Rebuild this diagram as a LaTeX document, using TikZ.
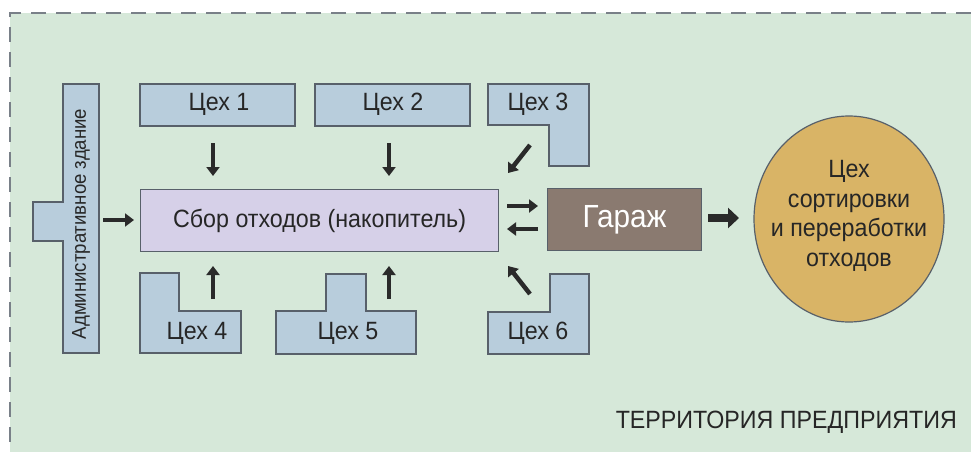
\documentclass[tikz,border=0pt]{standalone}
\usepackage{fontspec}
\setmainfont{Liberation Sans}[FakeStretch=0.93]
\usetikzlibrary{arrows.meta,shapes.geometric}
\definecolor{bggreen}{HTML}{D6E8D9}
\definecolor{shopblue}{HTML}{B8CDDC}
\definecolor{edgegray}{HTML}{58606A}
\definecolor{lav}{HTML}{D6D0E8}
\definecolor{garbrown}{HTML}{8A7A70}
\definecolor{circgold}{HTML}{D9B466}
\definecolor{arrdark}{HTML}{2A2A2A}
\definecolor{txt}{HTML}{262626}
\tikzset{
  shop/.style={fill=shopblue,draw=edgegray,line width=1.2pt},
  lbl/.style={inner sep=0pt,text=txt,font=\fontsize{25}{28}\selectfont},
  fat/.style={draw=arrdark,line width=4.5pt,-{Triangle[length=9pt,width=13pt]}},
  fatter/.style={draw=arrdark,line width=8pt,-{Triangle[length=11pt,width=20pt]}}
}
\begin{document}
\begin{tikzpicture}[x=1pt,y=-1pt]
\useasboundingbox (0,0) rectangle (971,452);
\fill[white] (0,0) rectangle (971,452);
\fill[bggreen] (10,13) rectangle (971,452);
\draw[edgegray!80,line width=1.6pt,dash pattern=on 15pt off 10pt] (971,13) -- (10,13) -- (10,452);

% admin building
\draw[shop] (63,84) -- (99,84) -- (99,353) -- (63,353) -- (63,241) -- (33,241) -- (33,202) -- (63,202) -- cycle;
\node[lbl,rotate=90,font=\fontsize{20}{22}\selectfont] (adm) at (81,224) {Административное здание};

% shops
\draw[shop] (140,84) rectangle (295,126);
\node[lbl] (c1) at (219,104) {Цех 1};
\draw[shop] (315,84) rectangle (470,126);
\node[lbl] (c2) at (393,104) {Цех 2};
\draw[shop] (488,84) -- (589,84) -- (589,166) -- (549,166) -- (549,125) -- (488,125) -- cycle;
\node[lbl] (c3) at (538,104) {Цех 3};
\draw[shop] (140,273) -- (179,273) -- (179,311) -- (241,311) -- (241,353) -- (140,353) -- cycle;
\node[lbl] (c4) at (197,333) {Цех 4};
\draw[shop] (276,311) -- (326,311) -- (326,274) -- (366,274) -- (366,311) -- (416,311) -- (416,354) -- (276,354) -- cycle;
\node[lbl] (c5) at (348,333) {Цех 5};
\draw[shop] (488,312) -- (550,312) -- (550,274) -- (589,274) -- (589,354) -- (488,354) -- cycle;
\node[lbl] (c6) at (538,333) {Цех 6};

% collector
\node[draw=edgegray,line width=1.2pt,fill=lav,minimum width=358pt,minimum height=62pt,inner sep=0pt,anchor=north west,
  font=\fontsize{25}{28}\selectfont,text=txt] (sbor) at (140,189) {Сбор отходов (накопитель)};
% garage
\node[draw=edgegray,line width=1.2pt,fill=garbrown,minimum width=154pt,minimum height=62pt,inner sep=0pt,anchor=north west,
  font=\fontsize{32}{34}\selectfont,text=white] (gar) at (547,188) {Гараж};
% sorting shop
\node[ellipse,draw=edgegray,line width=1.2pt,fill=circgold,minimum width=190pt,minimum height=206pt,inner sep=0pt] (sort) at (849,219) {};
\node[lbl,align=center,font=\fontsize{25}{29.5}\selectfont] (sorttxt) at (849,216) {Цех\\сортировки\\и переработки\\отходов};

% territory label
\node[lbl,anchor=east] (terr) at (957,422) {ТЕРРИТОРИЯ ПРЕДПРИЯТИЯ};

% arrows
\coordinate (a1s) at (213,143); \coordinate (a1e) at (213,176);
\coordinate (a2s) at (389,143); \coordinate (a2e) at (389,176);
\coordinate (a4s) at (213,299); \coordinate (a4e) at (213,266);
\coordinate (a5s) at (389,299); \coordinate (a5e) at (389,266);
\coordinate (aas) at (103,220); \coordinate (aae) at (134,220);
\coordinate (a3s) at (530,145); \coordinate (a3e) at (508,173);
\coordinate (a6s) at (530,294); \coordinate (a6e) at (508,266);
\coordinate (gis) at (507,206); \coordinate (gie) at (538,206);
\coordinate (gos) at (538,229); \coordinate (goe) at (507,229);
\coordinate (grs) at (708,218); \coordinate (gre) at (739,218);
\draw[fat] (a1s) -- (a1e);
\draw[fat] (a2s) -- (a2e);
\draw[fat] (a4s) -- (a4e);
\draw[fat] (a5s) -- (a5e);
\draw[fat] (aas) -- (aae);
\draw[fat] (a3s) -- (a3e);
\draw[fat] (a6s) -- (a6e);
\draw[fat] (gis) -- (gie);
\draw[fat] (gos) -- (goe);
\draw[fatter] (grs) -- (gre);
\end{tikzpicture}
\end{document}
